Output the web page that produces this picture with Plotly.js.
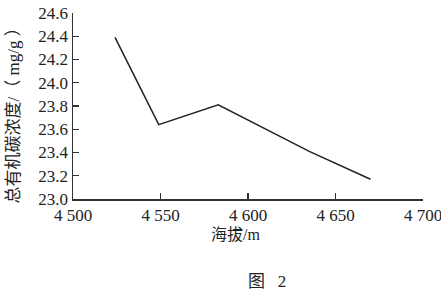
<!DOCTYPE html>
<html>
<head>
<meta charset="utf-8">
<script src="https://cdn.plot.ly/plotly-3.0.1.min.js"></script>
<style>html,body{margin:0;padding:0;background:#fff;}#chart{width:441px;height:294px;}</style>
</head>
<body>
<div id="chart"></div>
<script>
// Data
var altitude = [4524, 4549, 4583, 4635, 4670];
var tocConcentration = [24.39, 23.64, 23.81, 23.41, 23.17];
var xTickVals = [4500, 4550, 4600, 4650, 4700];
var xTickText = ['4 500', '4 550', '4 600', '4 650', '4 700'];
var yTickVals = [23.0, 23.2, 23.4, 23.6, 23.8, 24.0, 24.2, 24.4, 24.6];
var xTitle = '海拔/m';
var yTitle = '总有机碳浓度/（ mg/g ）';
var figCaption = '图\u2002 2';

var fontFam = 'Liberation Serif, "Noto Sans CJK SC", serif';

var trace = {
  x: altitude,
  y: tocConcentration,
  type: 'scatter',
  mode: 'lines',
  line: {color: '#222222', width: 1.5},
  hoverinfo: 'skip'
};

var layout = {
  width: 441,
  height: 294,
  margin: {l: 73, r: 18, t: 13, b: 95},
  paper_bgcolor: '#ffffff',
  plot_bgcolor: '#ffffff',
  showlegend: false,
  font: {family: fontFam, color: '#222222', size: 17},
  xaxis: {
    range: [4500, 4700],
    tickvals: xTickVals,
    ticktext: xTickText,
    ticks: 'inside',
    ticklen: 6,
    tickwidth: 1.2,
    tickcolor: '#333',
    showline: true,
    linecolor: '#333',
    linewidth: 1.5,
    showgrid: false,
    zeroline: false,
    ticklabeloverflow: 'allow',
    tickfont: {family: fontFam, size: 17, color: '#222'}
  },
  yaxis: {
    range: [23.0, 24.6],
    tickvals: yTickVals,
    tickformat: '.1f',
    ticks: 'inside',
    ticklen: 6,
    tickwidth: 1.2,
    tickcolor: '#333',
    showline: true,
    linecolor: '#333',
    linewidth: 1.5,
    showgrid: false,
    zeroline: false,
    ticklabelstandoff: 0,
    ticklabeloverflow: 'allow',
    tickfont: {family: fontFam, size: 17, color: '#222'}
  },
  annotations: [
    {text: xTitle, xref: 'paper', yref: 'paper', x: 0.463, y: -0.1935,
     xanchor: 'center', yanchor: 'middle', showarrow: false,
     font: {family: fontFam, size: 16, color: '#222'}},
    {text: figCaption, xref: 'paper', yref: 'paper', x: 0.554, y: -0.446,
     xanchor: 'center', yanchor: 'middle', showarrow: false,
     font: {family: fontFam, size: 17, color: '#222'}},
    {text: yTitle, xref: 'paper', yref: 'paper', x: -0.17, y: 0.468,
     xanchor: 'center', yanchor: 'middle', showarrow: false, textangle: -90,
     font: {family: fontFam, size: 17, color: '#222'}}
  ]
};

Plotly.newPlot('chart', [trace], layout, {staticPlot: true, displayModeBar: false});
</script>
</body>
</html>
